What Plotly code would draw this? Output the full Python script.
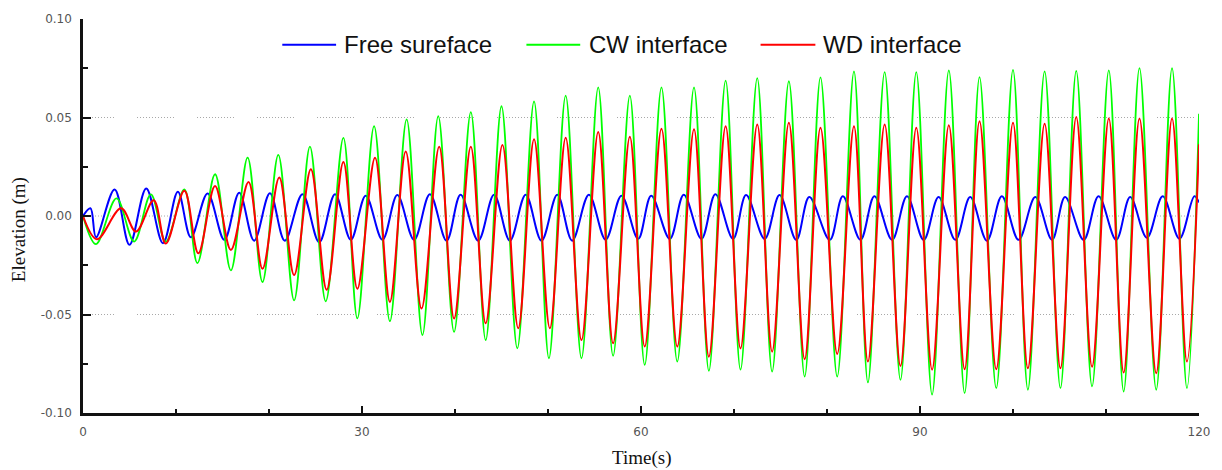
import plotly.graph_objects as go

# Turning points (crests and troughs) of each record: time in s, elevation in m
free_t = [0.0, 0.8, 1.4, 3.4, 5.0, 6.8, 8.6, 10.2, 11.6, 13.4, 15.2, 16.8, 18.4, 20.1,
          21.7, 23.6, 25.4, 27.1, 28.8, 30.4, 32.2, 33.8, 35.6, 37.3, 39.1, 40.6, 42.5,
          44.2, 45.9, 47.6, 49.3, 51.0, 52.6, 54.4, 56.2, 57.9, 59.7, 61.1, 63.1, 64.6,
          66.5, 68.0, 69.9, 71.3, 73.3, 74.9, 76.7, 78.1, 80.3, 81.7, 83.6, 85.1, 87.0,
          88.6, 90.4, 92.0, 93.8, 95.4, 97.2, 98.8, 100.6, 102.4, 104.2, 105.6, 107.6,
          109.2, 111.1, 112.6, 114.4, 116.1, 117.9, 119.5, 120.0]
free_y = [0.0, 0.0039, -0.0108, 0.0135, -0.0146, 0.0140, -0.0138, 0.0123, -0.0108,
          0.0114, -0.0121, 0.0118, -0.0125, 0.0116, -0.0125, 0.0111, -0.0133, 0.0111,
          -0.0121, 0.0103, -0.0121, 0.0106, -0.0121, 0.0111, -0.0125, 0.0108, -0.0125,
          0.0108, -0.0125, 0.0108, -0.0125, 0.0108, -0.0125, 0.0108, -0.0120, 0.0103,
          -0.0116, 0.0103, -0.0116, 0.0108, -0.0116, 0.0111, -0.0116, 0.0106, -0.0116,
          0.0106, -0.0121, 0.0096, -0.0121, 0.0100, -0.0121, 0.0100, -0.0121, 0.0100,
          -0.0121, 0.0096, -0.0121, 0.0096, -0.0125, 0.0100, -0.0121, 0.0096, -0.0121,
          0.0096, -0.0121, 0.0100, -0.0121, 0.0096, -0.0110, 0.0100, -0.0115, 0.0100,
          0.0069]

cw_t = [0.0, 1.4, 3.6, 5.5, 7.3, 8.9, 10.9, 12.3, 14.2, 15.9, 17.7, 19.3, 21.0, 22.7,
        24.4, 26.1, 28.0, 29.5, 31.3, 33.0, 34.8, 36.5, 38.2, 39.9, 41.7, 43.3, 45.0,
        46.7, 48.5, 50.1, 51.9, 53.6, 55.4, 57.0, 58.8, 60.4, 62.2, 63.9, 65.7, 67.3,
        69.1, 70.7, 72.5, 74.1, 75.9, 77.6, 79.3, 81.1, 82.9, 84.4, 86.2, 87.9, 89.6,
        91.3, 93.1, 94.8, 96.4, 98.2, 100.0, 101.6, 103.4, 105.1, 106.8, 108.5, 110.3,
        111.9, 113.6, 115.4, 117.1, 118.7, 120.0]
cw_y = [0.0, -0.0143, 0.0089, -0.0130, 0.0110, -0.0130, 0.0135, -0.0239, 0.0212,
        -0.0276, 0.0296, -0.0335, 0.0310, -0.0428, 0.0352, -0.0433, 0.0397, -0.0520,
        0.0456, -0.0534, 0.0490, -0.0604, 0.0507, -0.0588, 0.0527, -0.0630, 0.0557,
        -0.0672, 0.0582, -0.0722, 0.0611, -0.0722, 0.0653, -0.0710, 0.0611, -0.0756,
        0.0653, -0.0739, 0.0653, -0.0786, 0.0687, -0.0780, 0.0700, -0.0790, 0.0684,
        -0.0815, 0.0704, -0.0815, 0.0734, -0.0845, 0.0730, -0.0832, 0.0730, -0.0907,
        0.0739, -0.0899, 0.0705, -0.0874, 0.0742, -0.0882, 0.0734, -0.0874, 0.0737,
        -0.0865, 0.0739, -0.0891, 0.0751, -0.0882, 0.0751, -0.0874, 0.0519]

wd_t = [0.0, 1.5, 4.1, 5.7, 7.6, 8.9, 10.9, 12.4, 14.2, 15.9, 17.8, 19.3, 21.1, 22.7,
        24.5, 26.2, 28.0, 29.5, 31.4, 33.0, 34.7, 36.4, 38.3, 39.9, 41.7, 43.3, 45.1,
        46.8, 48.5, 50.2, 51.9, 53.6, 55.4, 57.0, 58.8, 60.4, 62.2, 63.9, 65.7, 67.3,
        69.1, 70.7, 72.5, 74.1, 75.9, 77.6, 79.3, 81.1, 82.9, 84.4, 86.2, 87.9, 89.6,
        91.3, 93.1, 94.8, 96.4, 98.2, 100.0, 101.6, 103.4, 105.1, 106.8, 108.5, 110.3,
        111.9, 113.6, 115.4, 117.1, 118.7, 120.0]
wd_y = [0.0, -0.0118, 0.0039, -0.0079, 0.0080, -0.0140, 0.0128, -0.0189, 0.0152,
        -0.0172, 0.0173, -0.0268, 0.0195, -0.0300, 0.0237, -0.0374, 0.0274, -0.0369,
        0.0296, -0.0436, 0.0327, -0.0470, 0.0352, -0.0520, 0.0352, -0.0545, 0.0360,
        -0.0570, 0.0389, -0.0570, 0.0397, -0.0630, 0.0426, -0.0646, 0.0402, -0.0663,
        0.0443, -0.0663, 0.0440, -0.0714, 0.0456, -0.0672, 0.0465, -0.0689, 0.0473,
        -0.0727, 0.0448, -0.0700, 0.0456, -0.0739, 0.0465, -0.0761, 0.0448, -0.0780,
        0.0461, -0.0778, 0.0481, -0.0778, 0.0473, -0.0773, 0.0468, -0.0773, 0.0502,
        -0.0765, 0.0495, -0.0795, 0.0495, -0.0798, 0.0495, -0.0739, 0.0364]

series_names = ["Free sureface", "CW interface", "WD interface"]
series_colors = ["#0000ff", "#00ff00", "#ff0000"]
series_widths = [2.0, 1.8, 2.0]

x_tick_vals = [0, 30, 60, 90, 120]
x_tick_text = ["0", "30", "60", "90", "120"]
y_tick_vals = [-0.10, -0.05, 0.0, 0.05, 0.10]
y_tick_text = ["-0.10", "-0.05", "0.00", "0.05", "0.10"]
grid_levels = [-0.05, 0.0, 0.05]

# ---- figure geometry (pixels) ----
W, H = 1222, 470
ML, MR, MT, MB = 83, 19, 17, 57
PW, PH = W - ML - MR, H - MT - MB


def px_to_paper_x(px):
    return (px - ML) / PW


def px_to_paper_y(py):
    return (H - MB - py) / PH


fig = go.Figure()
for xs, ys, name, color, width in zip(
        [free_t, cw_t, wd_t], [free_y, cw_y, wd_y],
        series_names, series_colors, series_widths):
    fig.add_trace(go.Scatter(
        x=xs, y=ys, mode="lines", name=name, showlegend=False,
        line=dict(color=color, width=width, shape="spline", smoothing=1.0),
    ))

# dotted grid broken into short runs of dots
dots = ["1px", "2px"] * 10 + ["1px", "23px"] + ["1px", "2px"] * 2
grid_dash = ",".join(dots)
shapes = []
for lvl in grid_levels:
    shapes.append(dict(type="line", xref="paper", x0=0, x1=1, yref="y", y0=lvl, y1=lvl,
                       layer="below", line=dict(color="#a8a8a8", width=1, dash=grid_dash)))

# legend drawn as line samples + labels across the top
legend_px = [(283, 337, 343), (528, 582, 589), (763, 818, 824)]
legend_y = px_to_paper_y(43)
annotations = []
for (x0, x1, xt), name, color in zip(legend_px, series_names, series_colors):
    shapes.append(dict(type="line", xref="paper", yref="paper",
                       x0=px_to_paper_x(x0), x1=px_to_paper_x(x1), y0=legend_y, y1=legend_y,
                       line=dict(color=color, width=2)))
    annotations.append(dict(xref="paper", yref="paper", x=px_to_paper_x(xt), y=legend_y,
                            xanchor="left", yanchor="middle", showarrow=False, text=name,
                            font=dict(family="Liberation Sans, Arial", size=24, color="#111")))

title_font = dict(family="Liberation Serif, Times New Roman, serif", size=19, color="#111")
annotations.append(dict(xref="paper", yref="paper", x=px_to_paper_x(19), y=px_to_paper_y(229),
                        xanchor="center", yanchor="middle", textangle=-90, showarrow=False,
                        text="Elevation (m)", font=title_font))
annotations.append(dict(xref="paper", yref="paper", x=px_to_paper_x(643), y=px_to_paper_y(458),
                        xanchor="center", yanchor="middle", showarrow=False,
                        text="Time(s)", font=title_font))

tick_font = dict(family="DejaVu Sans, Verdana", size=12, color="#555")

fig.update_layout(
    width=W, height=H,
    margin=dict(l=ML, r=MR, t=MT, b=MB, pad=0),
    paper_bgcolor="white", plot_bgcolor="white",
    shapes=shapes, annotations=annotations,
    showlegend=False,
    xaxis=dict(range=[0, 120], tickvals=x_tick_vals, ticktext=x_tick_text,
               showgrid=False, zeroline=False,
               showline=True, linecolor="#111", linewidth=2.5,
               ticks="inside", ticklen=7, tickwidth=1.5, tickcolor="#111",
               minor=dict(dtick=10, tick0=0, ticks="inside", ticklen=4, tickwidth=1.5,
                          tickcolor="#111", showgrid=False),
               tickfont=tick_font, ticklabelstandoff=6),
    yaxis=dict(range=[-0.10, 0.10], tickvals=y_tick_vals, ticktext=y_tick_text,
               showgrid=False, zeroline=False,
               showline=True, linecolor="#111", linewidth=2.5,
               ticks="inside", ticklen=8, tickwidth=1.5, tickcolor="#111",
               minor=dict(dtick=0.025, tick0=0, ticks="inside", ticklen=5, tickwidth=1.5,
                          tickcolor="#111", showgrid=False),
               tickfont=tick_font, ticklabelstandoff=6),
)

fig.write_html("out.html")
